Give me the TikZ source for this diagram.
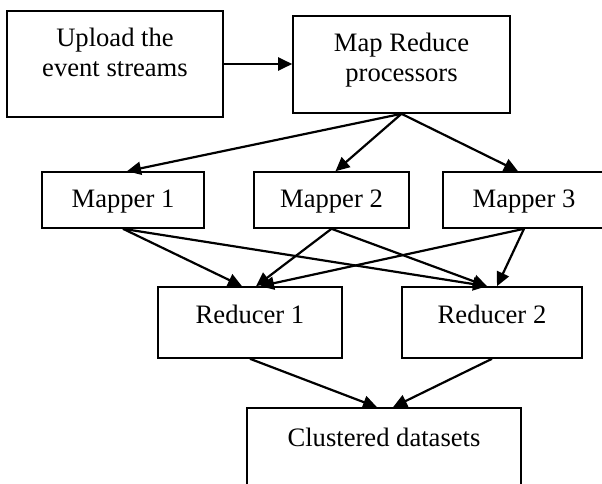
\documentclass[tikz,border=0pt]{standalone}
\usepackage{fontspec}
\setmainfont{Liberation Serif}
\usetikzlibrary{arrows.meta}
\begin{document}
\begin{tikzpicture}[x=1pt,y=-1pt,
  box/.style={draw, line width=1.6pt, rectangle, inner sep=0pt},
  txt/.style={anchor=base, inner sep=0pt, font=\fontsize{26.6}{30}\selectfont},
  flow/.style={draw, line width=2.2pt, -{Triangle[length=14pt,width=13pt]}}]
% page area (boxes on the right and bottom run past it)
\clip (0,0) rectangle (602,484);
\fill[white] (0,0) rectangle (602,484);

% boxes
\node[box, line width=2.3pt, minimum width=216, minimum height=106] (up) at (115,64) {};
\node[box, minimum width=217, minimum height=97] (mr) at (401.5,64.5) {};
\node[box, minimum width=162, minimum height=56] (m1) at (123,200) {};
\node[box, minimum width=155, minimum height=56] (m2) at (331.5,200) {};
\node[box, minimum width=162, minimum height=56] (m3) at (524,200) {};
\node[box, minimum width=184, minimum height=71] (r1) at (250,322.5) {};
\node[box, minimum width=180, minimum height=71] (r2) at (492,322.5) {};
\node[box, minimum width=274, minimum height=84] (cl) at (384,450) {};

% box texts
\node[txt] (up-a) at (115,47) {Upload the};
\node[txt] (up-b) at (115,77) {event streams};
\node[txt] (mr-a) at (401.5,52) {Map Reduce};
\node[txt] (mr-b) at (401.5,82) {processors};
\node[txt] (m1-t) at (123,207) {Mapper 1};
\node[txt] (m2-t) at (331.5,207) {Mapper 2};
\node[txt] (m3-t) at (524,207) {Mapper 3};
\node[txt] (r1-t) at (250,323) {Reducer 1};
\node[txt] (r2-t) at (492,323) {Reducer 2};
\node[txt] (cl-t) at (384,446) {Clustered datasets};

% connectors
\draw[flow] (up.east) -- (up.east -| mr.west);
\draw[flow] (mr.south) -- ([xshift=4pt]m1.north);
\draw[flow] (mr.south) -- ([xshift=4pt]m2.north);
\draw[flow] (mr.south) -- ([xshift=-6pt]m3.north);

\draw[flow] (m1.south) -- ([xshift=-8pt]r1.north);
\draw[flow] (m1.south) -- ([xshift=-5pt]r2.north);
\draw[flow] (m2.south) -- ([xshift=6pt]r1.north);
\draw[flow] (m2.south) -- ([xshift=-5pt]r2.north);
\draw[flow] (m3.south) -- ([xshift=10pt]r1.north);
\draw[flow] (m3.south) -- ([xshift=5pt]r2.north);

\draw[flow] (r1.south) -- ([xshift=-7pt]cl.north);
\draw[flow] (r2.south) -- ([xshift=9pt]cl.north);
\end{tikzpicture}
\end{document}
